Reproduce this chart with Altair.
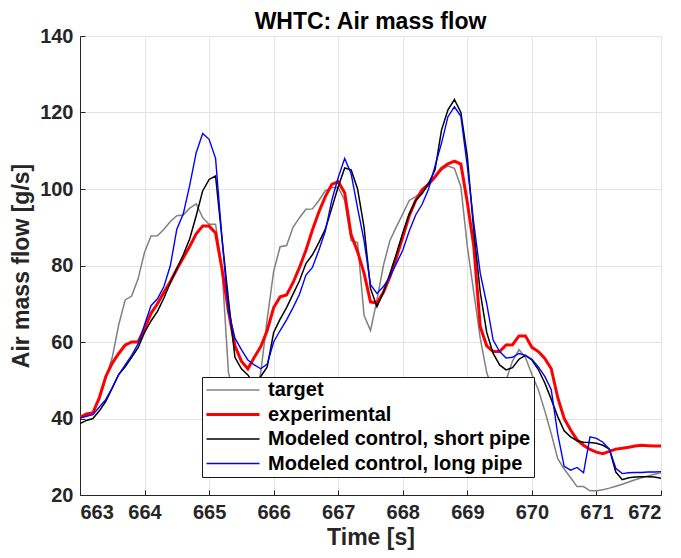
import altair as alt
import pandas as pd

time = [round(663 + 0.1 * i, 1) for i in range(91)]

target = [40.5, 41.4, 41.5, 45.0, 50.5, 56.0, 64.5, 71.0, 72.0, 76.5,
          83.5, 87.7, 87.8, 89.5, 91.5, 93.0, 93.2, 95.0, 96.1, 92.5,
          90.8, 90.8, 79.0, 52.0, 45.0, 43.0, 43.0, 45.0, 52.0, 66.0,
          78.5, 84.9, 85.2, 90.0, 92.5, 94.7, 94.8, 97.0, 99.5, 100.4,
          100.4, 97.0, 86.5, 86.0, 67.0, 63.0, 71.0, 80.0, 86.5, 90.1,
          93.5, 97.0, 98.0, 99.2, 101.0, 103.0, 105.0, 106.0, 105.4, 100.6,
          85.0, 73.0, 61.0, 52.0, 47.0, 46.0, 50.0, 55.0, 58.0, 56.0,
          51.5, 47.5, 42.0, 36.0, 29.5, 26.8, 24.5, 22.2, 22.2, 21.1,
          21.1, 21.4, 21.8, 22.3, 22.8, 23.4, 24.0, 24.5, 25.0, 25.4, 25.8]

experimental = [40.3, 41.1, 41.5, 45.5, 51.0, 54.5, 57.0, 59.2, 60.0, 60.0,
                63.5, 67.5, 70.0, 73.0, 75.8, 79.0, 82.0, 85.0, 88.3, 90.3,
                90.3, 88.5, 79.0, 68.0, 59.0, 55.0, 53.0, 56.0, 58.8, 63.0,
                69.0, 71.8, 72.3, 75.5, 79.5, 84.0, 89.3, 94.0, 98.0, 101.2,
                101.9, 99.0, 88.0, 83.6, 78.0, 70.5, 70.2, 73.0, 77.0, 82.0,
                87.5, 93.0, 97.0, 99.8, 101.3, 103.2, 105.4, 106.6, 107.3, 106.5,
                96.5, 85.0, 64.0, 59.0, 57.5, 57.5, 59.2, 59.3, 61.6, 61.6,
                58.6, 57.5, 55.7, 53.0, 45.5, 40.0, 37.0, 34.4, 33.0, 31.9,
                31.2, 30.8, 31.4, 32.0, 32.2, 32.5, 32.8, 33.0, 32.9, 32.8, 32.8]

short_pipe = [38.7, 39.5, 40.0, 42.0, 44.5, 48.0, 51.5, 53.5, 56.0, 58.5,
              62.5, 65.5, 68.0, 71.5, 75.5, 79.2, 82.8, 87.0, 93.0, 99.5,
              102.5, 103.4, 87.0, 71.0, 56.0, 53.0, 51.4, 49.0, 51.0, 53.5,
              62.5, 66.0, 69.0, 72.5, 76.0, 80.5, 82.8, 86.0, 89.5, 95.0,
              100.6, 105.5, 105.0, 100.0, 90.0, 74.0, 69.2, 73.0, 77.8, 83.0,
              88.5, 93.5, 97.0, 98.8, 101.5, 105.0, 115.4, 120.7, 123.4, 120.0,
              108.4, 89.0, 73.0, 62.5, 57.0, 54.0, 52.7, 53.3, 55.5, 56.5,
              55.3, 52.8, 49.3, 45.0, 40.5, 36.8, 35.2, 34.2, 33.8, 33.7,
              33.5, 33.0, 32.0, 26.0, 24.0, 24.5, 24.7, 24.8, 24.8, 24.7, 24.4]

long_pipe = [40.1, 40.6, 41.0, 43.0, 45.0, 48.0, 51.5, 54.0, 56.5, 59.5,
             64.5, 69.5, 71.3, 74.5, 80.0, 89.5, 93.5, 101.0, 109.5, 114.5,
             113.0, 108.0, 87.0, 68.0, 61.0, 58.0, 55.3, 54.0, 53.0, 54.2,
             60.0, 63.0, 65.8, 69.0, 72.5, 77.5, 79.5, 84.0, 89.0, 97.0,
             103.0, 108.0, 104.0, 95.0, 86.5, 75.0, 72.7, 74.5, 77.0, 80.5,
             84.0, 89.0, 93.2, 96.0, 100.0, 106.0, 112.0, 118.9, 121.5, 119.0,
             106.0, 91.0, 78.0, 70.0, 60.5, 57.5, 55.8, 56.0, 57.0, 56.5,
             55.5, 53.5, 51.0, 47.5, 36.0, 27.5, 26.5, 27.2, 25.8, 35.2,
             34.8, 33.8, 32.0, 27.0, 25.6, 25.8, 25.9, 25.9, 26.0, 26.0, 26.1]

series_names = ["target", "experimental", "Modeled control, short pipe", "Modeled control, long pipe"]
series_colors = ["#808080", "#ff0000", "#000000", "#0000ff"]
series_widths = [1.5, 3.0, 1.5, 1.4]
x_ticks = [663, 664, 665, 666, 667, 668, 669, 670, 671, 672]
y_ticks = [20, 40, 60, 80, 100, 120, 140]

rows = []
for name, vals in zip(series_names, [target, experimental, short_pipe, long_pipe]):
    for t, v in zip(time, vals):
        rows.append({"time": t, "flow": v, "series": name})
df = pd.DataFrame(rows)

W, H = 581, 459
FONT = "Liberation Sans"
AX = "#262626"

xscale = alt.Scale(domain=[663, 672], nice=False)
yscale = alt.Scale(domain=[20, 140], nice=False)
color_scale = alt.Scale(type="ordinal", domain=series_names, range=series_colors)
width_scale = alt.Scale(type="ordinal", domain=series_names, range=series_widths)

legend = alt.Legend(
    title=None, orient="none", legendX=122, legendY=341,
    symbolType="stroke", symbolSize=2809, clipHeight=20, rowPadding=4.5,
    labelFont=FONT, labelFontSize=20, labelFontWeight="bold", labelColor="black",
    labelOffset=7, strokeColor="#1a1a1a", fillColor="white", padding=3,
    labelLimit=400,
)

lines = alt.Chart(df).mark_line(strokeJoin="miter", clip=True).encode(
    x=alt.X("time:Q", scale=xscale,
            axis=alt.Axis(values=x_ticks, format="d", title="Time [s]", ticks=False,
                          labelFont=FONT, labelFontSize=20, labelFontWeight="bold",
                          labelColor=AX, labelPadding=7, titleFont=FONT, titleFontSize=23,
                          titleFontWeight="bold", titleColor=AX, titlePadding=4,
                          domainColor=AX, gridColor="#e3e3e3", grid=True)),
    y=alt.Y("flow:Q", scale=yscale,
            axis=alt.Axis(values=y_ticks, title="Air mass flow [g/s]", ticks=False,
                          labelFont=FONT, labelFontSize=20, labelFontWeight="bold",
                          labelColor=AX, labelPadding=7, titleFont=FONT, titleFontSize=23,
                          titleFontWeight="bold", titleColor=AX, titlePadding=6,
                          domainColor=AX, gridColor="#e3e3e3", grid=True)),
    color=alt.Color("series:N", scale=color_scale, legend=legend),
    strokeWidth=alt.StrokeWidth("series:N", scale=width_scale, legend=legend),
)

# inward-pointing tick marks
ticks = alt.Chart(df).mark_point(opacity=0).encode(
    x=alt.X("time:Q", scale=xscale,
            axis=alt.Axis(values=x_ticks, orient="bottom", offset=-5, labels=False,
                          title=None, domain=False, grid=False, tickSize=5, tickColor=AX)),
    y=alt.Y("flow:Q", scale=yscale,
            axis=alt.Axis(values=y_ticks, orient="left", offset=-5, labels=False,
                          title=None, domain=False, grid=False, tickSize=5, tickColor=AX)),
)

chart = alt.layer(lines, ticks).resolve_axis(
    x="independent", y="independent"
).properties(
    width=W, height=H,
    title=alt.Title("WHTC: Air mass flow", font=FONT, fontSize=23, fontWeight="bold",
                    color="black", offset=-8),
    autosize=alt.AutoSizeParams(type="none"),
    padding={"left": 72, "top": 28, "right": 11, "bottom": 55},
).configure_view(stroke=None)

chart.save("out.html", embed_options={"renderer": "svg", "actions": False})
